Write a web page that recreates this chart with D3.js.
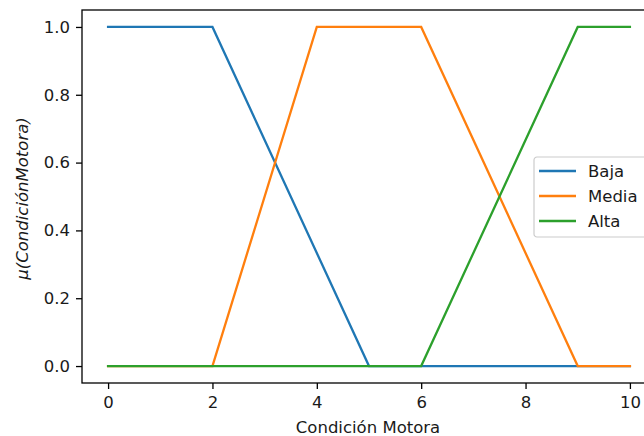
<!DOCTYPE html>
<html>
<head>
<meta charset="utf-8">
<script src="https://cdn.jsdelivr.net/npm/d3@7"></script>
<style>
  html, body { margin: 0; padding: 0; background: #fff; overflow: hidden; }
  svg { display: block; }
  text { font-family: "DejaVu Sans", sans-serif; }
</style>
</head>
<body>
<svg id="chart" width="644" height="436"></svg>
<script>
// Membership functions for "Condición Motora" (breakpoints of each trapezoid)
const seriesNames = ["Baja", "Media", "Alta"];
const bajaX = [0, 2, 5, 10];
const bajaY = [1, 1, 0, 0];
const mediaX = [0, 2, 4, 6, 9, 10];
const mediaY = [0, 0, 1, 1, 0, 0];
const altaX = [0, 6, 9, 10];
const altaY = [0, 0, 1, 1];
const xTicks = [0, 2, 4, 6, 8, 10];
const yTicks = [0.0, 0.2, 0.4, 0.6, 0.8, 1.0];
const colors = ["#1f77b4", "#ff7f0e", "#2ca02c"];

const series = [
  { name: seriesNames[0], xs: bajaX, ys: bajaY, color: colors[0] },
  { name: seriesNames[1], xs: mediaX, ys: mediaY, color: colors[1] },
  { name: seriesNames[2], xs: altaX, ys: altaY, color: colors[2] }
];

const FONT = 16.5;
const textColor = "#1a1a1a";

const svg = d3.select("#chart");
const plot = { left: 82, right: 656, top: 10, bottom: 383 };

const x = d3.scaleLinear().domain([-0.5, 10.5]).range([plot.left, plot.right]);
const y = d3.scaleLinear().domain([-0.05, 1.05]).range([plot.bottom, plot.top]);

// Lines
const line = d3.line().x(d => x(d[0])).y(d => y(d[1]));
svg.append("g").selectAll("path")
  .data(series)
  .join("path")
  .attr("d", s => line(s.xs.map((v, i) => [v, s.ys[i]])))
  .attr("fill", "none")
  .attr("stroke", s => s.color)
  .attr("stroke-width", 2.3)
  .attr("stroke-linejoin", "miter")
  .attr("stroke-linecap", "square");

// Axes
const xAxis = d3.axisBottom(x).tickValues(xTicks).tickFormat(d3.format("d"))
  .tickSize(6).tickPadding(7);
const yAxis = d3.axisLeft(y).tickValues(yTicks).tickFormat(d3.format(".1f"))
  .tickSize(6).tickPadding(6);

const gx = svg.append("g").attr("transform", `translate(0,${plot.bottom})`).call(xAxis);
const gy = svg.append("g").attr("transform", `translate(${plot.left},0)`).call(yAxis);
[gx, gy].forEach(g => {
  g.select(".domain").remove();
  g.selectAll(".tick line").attr("stroke", "#000").attr("stroke-width", 1.3);
  g.selectAll(".tick text").attr("fill", textColor).style("font-size", FONT + "px")
    .style("font-family", "'DejaVu Sans', sans-serif");
});

// Spines
svg.append("rect")
  .attr("x", plot.left).attr("y", plot.top)
  .attr("width", plot.right - plot.left).attr("height", plot.bottom - plot.top)
  .attr("fill", "none").attr("stroke", "#000").attr("stroke-width", 1.3);

// Axis labels
svg.append("text")
  .attr("x", 368).attr("y", 433)
  .attr("text-anchor", "middle")
  .attr("fill", textColor)
  .style("font-size", FONT + "px")
  .text("Condición Motora");

svg.append("text")
  .attr("transform", `translate(28,${(plot.top + plot.bottom) / 2 + 2}) rotate(-90)`)
  .attr("text-anchor", "middle")
  .attr("fill", textColor)
  .style("font-size", FONT + "px")
  .style("font-style", "italic")
  .text("μ(CondiciónMotora)");

// Legend
const leg = svg.append("g").attr("transform", "translate(534,157)");
leg.append("rect")
  .attr("width", 114).attr("height", 80)
  .attr("rx", 3).attr("ry", 3)
  .attr("fill", "#fff").attr("fill-opacity", 0.8)
  .attr("stroke", "#cccccc").attr("stroke-width", 1.2);
series.forEach((s, i) => {
  const cy = 14 + i * 25;
  leg.append("line")
    .attr("x1", 5).attr("x2", 42).attr("y1", cy).attr("y2", cy)
    .attr("stroke", s.color).attr("stroke-width", 2.3);
  leg.append("text")
    .attr("x", 54).attr("y", cy + 6)
    .attr("fill", textColor)
    .style("font-size", FONT + "px")
    .text(s.name);
});
</script>
</body>
</html>
